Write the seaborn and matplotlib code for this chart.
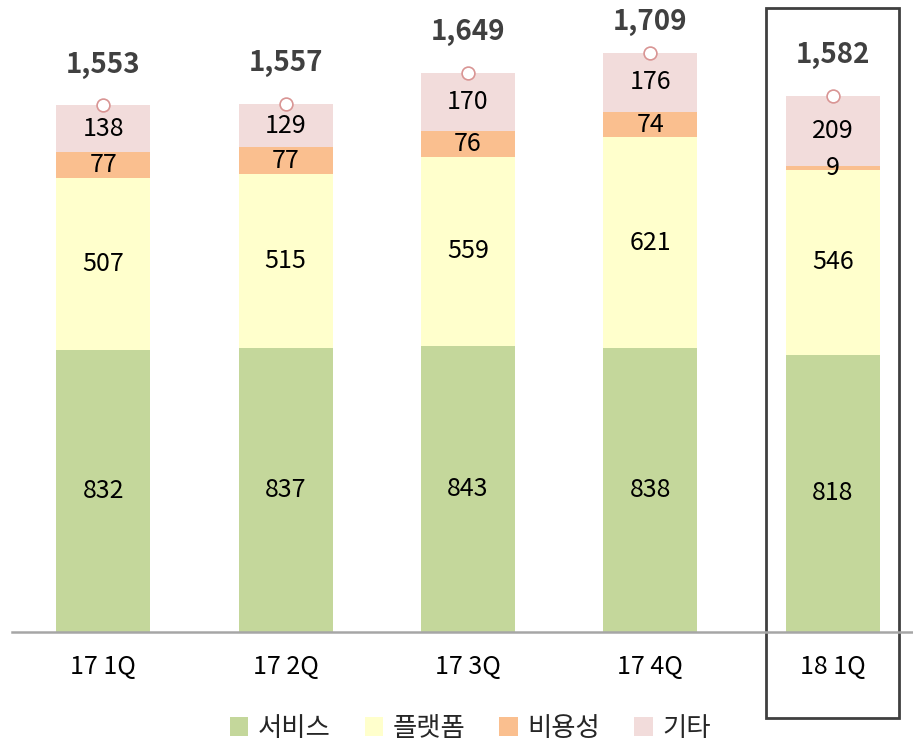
import matplotlib
matplotlib.use("Agg")
import matplotlib.pyplot as plt
import seaborn as sns
import numpy as np
import pandas as pd
from matplotlib.patches import Patch, Rectangle
import matplotlib.transforms as mtransforms

quarters = ["17 1Q", "17 2Q", "17 3Q", "17 4Q", "18 1Q"]
series_names = ["서비스", "플랫폼", "비용성", "기타"]
service = [832, 837, 843, 838, 818]
platform = [507, 515, 559, 621, 546]
cost = [77, 77, 76, 74, 9]
other = [138, 129, 170, 176, 209]
totals = [1553, 1557, 1649, 1709, 1582]

colors = ["#C4D79B", "#FFFFCC", "#FABF8F", "#F2DCDB"]

sns.set_style("white")
plt.rcParams["font.family"] = ["Noto Sans CJK KR", "DejaVu Sans"]

layers = np.array([service, platform, cost, other])
cum = layers.cumsum(axis=0)

fig = plt.figure(figsize=(9.13, 7.42), dpi=100)
ax = fig.add_axes([12 / 913, 110 / 742, 901 / 913, 632 / 742])

# stacked bars: draw cumulative heights from the top layer down
for i in range(len(series_names) - 1, -1, -1):
    df = pd.DataFrame({"q": quarters, "v": cum[i]})
    sns.barplot(data=df, x="q", y="v", color=colors[i], width=0.516,
                saturation=1, ax=ax, linewidth=0)

# segment value labels
for i in range(len(series_names)):
    bottoms = cum[i] - layers[i]
    for j, q in enumerate(quarters):
        ax.text(j, bottoms[j] + layers[i][j] / 2, f"{layers[i][j]}",
                ha="center", va="center", fontsize=18, color="black")

# totals: marker + bold label
tot_df = pd.DataFrame({"q": quarters, "t": totals})
sns.scatterplot(data=tot_df, x="q", y="t", ax=ax, s=85, marker="o",
                facecolor="white", edgecolor="#D99594", linewidth=1.2, zorder=5)
for j, t in enumerate(totals):
    ax.text(j, min(t + 120, 1800), f"{t:,}", ha="center", va="center", fontsize=20,
            fontweight="bold", color="#404040")

ax.set_xlim(-0.5, 4.44)
ax.set_ylim(0, 1864)
ax.set_xlabel("")
ax.set_ylabel("")
ax.set_yticks([])
for s in ["top", "left", "right"]:
    ax.spines[s].set_visible(False)
ax.spines["bottom"].set_color("#A6A6A6")
ax.spines["bottom"].set_linewidth(1.8)
ax.tick_params(axis="x", length=0, pad=16, labelsize=18, colors="black")

# highlight box around latest quarter
trans = mtransforms.blended_transform_factory(ax.transData, ax.transAxes)
ax.add_patch(Rectangle((4 - 0.365, -0.136), 0.73, 0.987 + 0.136, transform=trans,
                       fill=False, edgecolor="#404040", linewidth=2, clip_on=False))

handles = [Patch(facecolor=c, edgecolor="none", label=n) for c, n in zip(colors, series_names)]
fig.legend(handles=handles, loc="center", bbox_to_anchor=(0.515, 14 / 742), ncol=4,
           frameon=False, fontsize=19, handlelength=0.7, handleheight=0.7,
           handletextpad=0.35, columnspacing=1.3)

fig.savefig("out.png", dpi=100)
